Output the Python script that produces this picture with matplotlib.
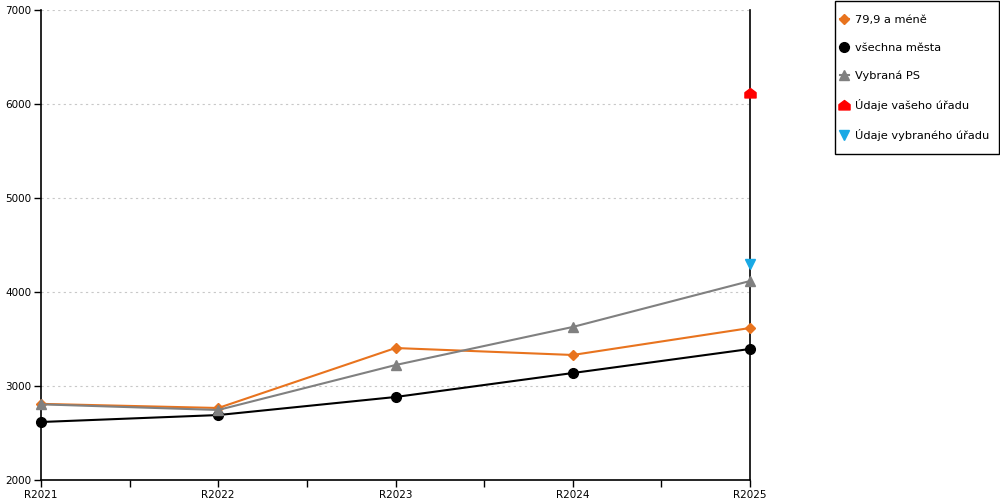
import matplotlib
matplotlib.use("Agg")
import matplotlib.pyplot as plt
from matplotlib.path import Path
from matplotlib.patches import Rectangle

plt.rcParams['font.family'] = ['DejaVu Sans']

categories = ["R2021", "R2022", "R2023", "R2024", "R2025"]
s_small = [2810, 2766, 3404, 3330, 3617]     # 79,9 a méně
s_all = [2617, 2691, 2883, 3138, 3394]       # všechna města
s_ps = [2805, 2745, 3223, 3628, 4117]        # Vybraná PS
your_office = 6117                           # Údaje vašeho úřadu (R2025)
sel_office = 4298                            # Údaje vybraného úřadu (R2025)
yticks = [2000, 3000, 4000, 5000, 6000, 7000]

house = Path([(-1, -0.8), (1, -0.8), (1, 0.15), (0, 0.9), (-1, 0.15), (-1, -0.8)],
             [Path.MOVETO, Path.LINETO, Path.LINETO, Path.LINETO, Path.LINETO, Path.CLOSEPOLY])

fig = plt.figure(figsize=(10, 5), dpi=100)
ax = fig.add_axes([0.041, 0.04, 0.709, 0.94])
x = list(range(len(categories)))

ax.plot(x, s_small, color='#e8731e', lw=1.5, marker='D', ms=5.5, label='79,9 a méně', zorder=3, clip_on=False)
ax.plot(x, s_all, color='#000000', lw=1.5, marker='o', ms=7, label='všechna města', zorder=3, clip_on=False)
ax.plot(x, s_ps, color='#808080', lw=1.5, marker='^', ms=7, label='Vybraná PS', zorder=3, clip_on=False)
ax.axvline(4, color='black', lw=1.2, zorder=2, clip_on=False)
ax.plot([4], [your_office], ls='none', marker=house, ms=8, color='#ff0000', label='Údaje vašeho úřadu', zorder=4, clip_on=False)
ax.plot([4], [sel_office], ls='none', marker='v', ms=7, color='#19a9e5', label='Údaje vybraného úřadu', zorder=4, clip_on=False)

ax.set_xlim(0, 4)
ax.set_ylim(2000, 7000)
ax.set_yticks(yticks)
ax.set_xticks(x)
ax.set_xticklabels(categories)
ax.set_xticks([0.5, 1.5, 2.5, 3.5], minor=True)
ax.tick_params(axis='x', which='both', direction='out', length=5, width=1, labelsize=7.5, pad=2)
ax.tick_params(axis='y', direction='out', length=5, width=1, labelsize=7.5, pad=2)
ax.grid(axis='y', color='#c8c8c8', ls=(0, (2, 3)), lw=0.8)
ax.grid(axis='x', visible=False)
for s in ['top', 'right']:
    ax.spines[s].set_visible(False)
for s in ['left', 'bottom']:
    ax.spines[s].set_linewidth(1.2)

# legend frame
fig.patches.append(Rectangle((0.8345, 0.692), 0.1645, 0.307, transform=fig.transFigure,
                             facecolor='white', edgecolor='black', lw=1.0, zorder=1))
leg = fig.legend(loc='upper left', bbox_to_anchor=(0.8395, 0.970), fontsize=8.2,
                 frameon=False, labelspacing=1.57, borderpad=0, handlelength=0.8,
                 handletextpad=0.55, borderaxespad=0)

fig.savefig('out.png', dpi=100)
